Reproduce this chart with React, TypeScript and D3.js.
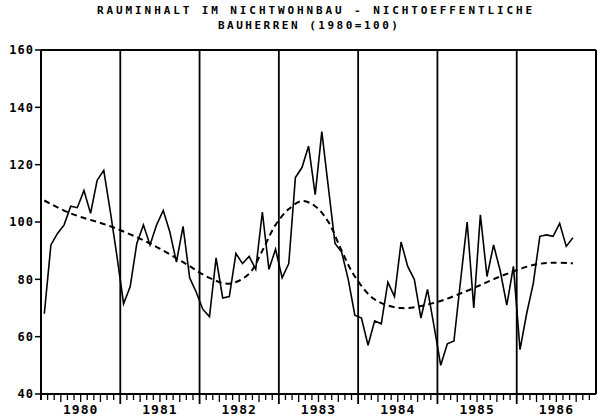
import * as d3 from "d3";

// monthly index values, Jan 1980 .. Sep 1986
const values = [
  68, 92, 96, 99, 105.5, 105, 111, 103, 114.5, 118, 103.5, 88,
  71.5, 77.5, 92.5, 99, 92, 99, 104, 96.5, 86, 98.5, 80.5, 75.5,
  69.5, 67, 87.5, 73.5, 74, 89, 85.5, 88, 83.5, 103.5, 83.5, 90.5,
  80.5, 85.5, 115.5, 119, 126.5, 109.5, 131.5, 112, 92.5, 89.5, 80, 67.5,
  66.5, 57, 65.5, 64.5, 79, 74, 93, 84.5, 80, 66.5, 76.5, 63.5,
  50, 57.5, 58.5, 79.5, 100, 70, 102.5, 81, 92, 83, 71, 84.5,
  55.5, 68, 78.5, 95, 95.5, 95, 99.5, 91.5, 94.5,
];

// smoothed trend, read at selected months
const trendMonths = [0, 4, 10, 16, 21, 25, 28, 31, 33, 35, 37, 39, 41, 43, 45, 47, 50, 54, 59, 64, 69, 74, 77, 80];
const trendValues = [107.5, 103, 98.5, 92.5, 86, 80.5, 78.5, 82, 90, 99, 104.5, 107.3, 105.5, 100, 90, 81, 73, 70, 71.8, 76, 81, 85, 85.8, 85.6];

const years = ["1980", "1981", "1982", "1983", "1984", "1985", "1986"];
const yTicks = [40, 60, 80, 100, 120, 140, 160];

const W = 598, H = 416;
const left = 41, right = 596, top = 50, bottom = 394;

export default function App() {
  const x = d3.scaleLinear().domain([0, years.length * 12]).range([left, right]);
  const y = d3.scaleLinear().domain([40, 160]).range([bottom, top]);

  const line = d3.line<number>()
    .x((_, i) => x(i + 0.5))
    .y(d => y(d));

  const trend = d3.line<number>()
    .x((_, i) => x(trendMonths[i] + 0.5))
    .y(d => y(d))
    .curve(d3.curveCatmullRom.alpha(0.5));

  const font = "'DejaVu Sans Mono', monospace";

  return (
    <svg width={W} height={H} style={{ position: "absolute", left: 0, top: 0, background: "#fff" }}>
      <text x={97} y={14} fontFamily={font} fontWeight="bold" fontSize={11} letterSpacing={2.9} fill="#000">
        RAUMINHALT IM NICHTWOHNBAU - NICHTOEFFENTLICHE
      </text>
      <text x={218} y={28.5} fontFamily={font} fontWeight="bold" fontSize={11} letterSpacing={2.5} fill="#000">
        BAUHERREN (1980=100)
      </text>

      {/* frame */}
      <line x1={left} x2={right} y1={top} y2={top} stroke="#000" strokeWidth={2} />
      <line x1={right} x2={right} y1={top} y2={bottom} stroke="#000" strokeWidth={2} />
      <line x1={left} x2={left} y1={top} y2={bottom + 6} stroke="#000" strokeWidth={2} />
      <line x1={left} x2={right} y1={bottom} y2={bottom} stroke="#000" strokeWidth={2} />

      {/* year dividers */}
      {years.slice(1).map((_, i) => (
        <line key={i} x1={x((i + 1) * 12)} x2={x((i + 1) * 12)} y1={top} y2={bottom + 10} stroke="#000" strokeWidth={1.8} />
      ))}

      {/* month ticks */}
      {d3.range(1, years.length * 12).filter(m => m % 12 !== 0).map(m => (
        <line key={m} x1={x(m)} x2={x(m)} y1={bottom} y2={bottom + (m % 3 === 0 ? 8 : 6)} stroke="#000" strokeWidth={1.3} />
      ))}

      {/* y axis */}
      {yTicks.map(t => (
        <g key={t}>
          <line x1={left - 6} x2={left} y1={y(t)} y2={y(t)} stroke="#000" strokeWidth={1.5} />
          <text x={left - 7} y={y(t)} dy="0.36em" textAnchor="end" fontFamily={font} fontWeight="bold" fontSize={12} letterSpacing={1} fill="#000">
            {t}
          </text>
        </g>
      ))}

      {/* year labels */}
      {years.map((yr, i) => (
        <text key={yr} x={x(i * 12 + 6)} y={414} textAnchor="middle" fontFamily={font} fontWeight="bold" fontSize={13} letterSpacing={1} fill="#000">
          {yr}
        </text>
      ))}

      <path d={trend(trendValues) ?? ""} fill="none" stroke="#000" strokeWidth={2} strokeDasharray="6 4" />
      <path d={line(values) ?? ""} fill="none" stroke="#000" strokeWidth={1.6} strokeLinejoin="miter" />
    </svg>
  );
}
